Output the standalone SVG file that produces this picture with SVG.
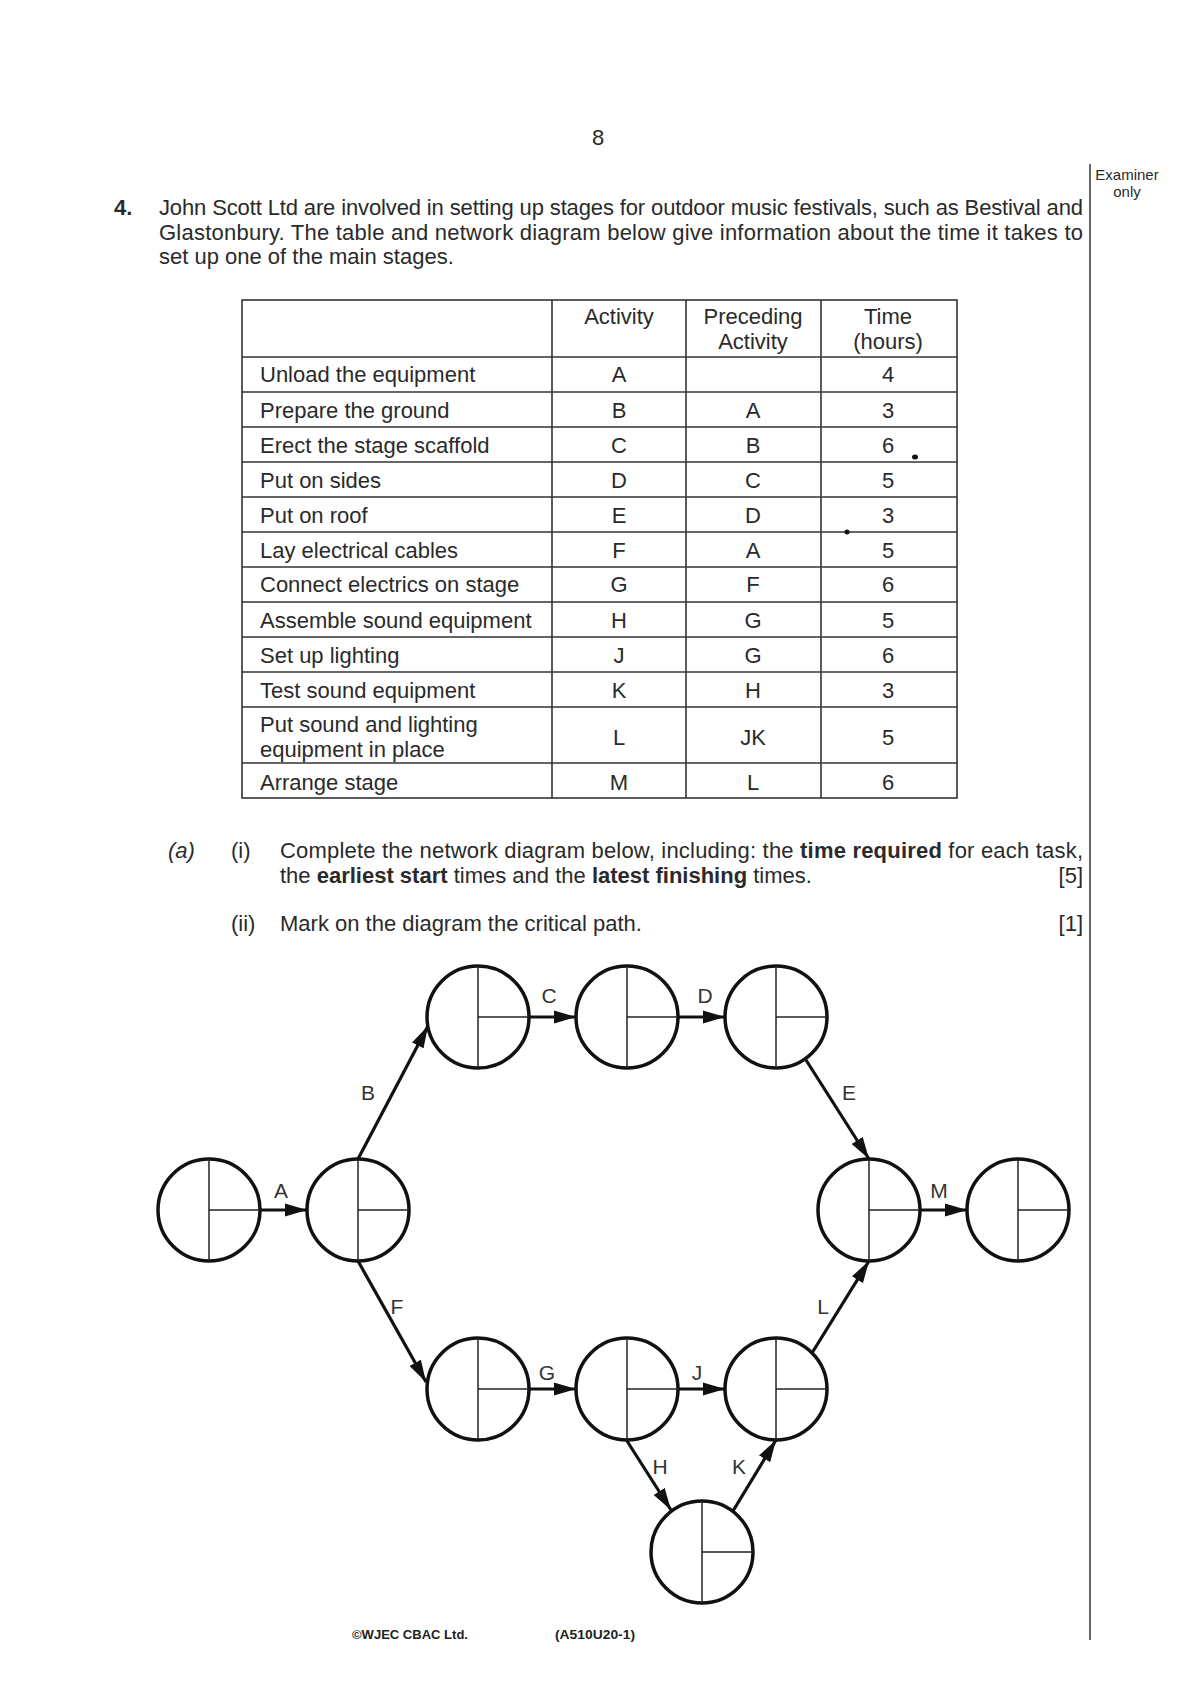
<svg xmlns="http://www.w3.org/2000/svg" width="1200" height="1696" viewBox="0 0 1200 1696">
<style>
.t{font-family:"Liberation Sans",Arial,sans-serif;font-size:22px;fill:#2a2a2a}
.c{text-anchor:middle}
.b{font-weight:bold}
.lbl{font-family:"Liberation Sans",Arial,sans-serif;font-size:21px;fill:#333;text-anchor:middle}
.grid{stroke:#333;stroke-width:1.6;fill:none}
.node circle{fill:#fff;stroke:#111;stroke-width:3.5}
.node line{stroke:#222;stroke-width:1.5}
.arr line{stroke:#111;stroke-width:3.2;marker-end:url(#ah)}
.sm{font-family:"Liberation Sans",Arial,sans-serif;font-size:13px;fill:#222;font-weight:bold}
</style>
<defs>
<marker id="ah" markerUnits="userSpaceOnUse" markerWidth="23" markerHeight="14" refX="22" refY="7" orient="auto">
<path d="M0,0.5 L22,7 L0,13.5 z" fill="#111"/>
</marker>
</defs>
<rect width="1200" height="1696" fill="#fff"/>

<text class="t c" x="598" y="145" font-size="20">8</text>
<line x1="1090" y1="164" x2="1090" y2="1640" stroke="#333" stroke-width="1.5"/>
<text class="t c" x="1127" y="180" style="font-size:15px">Examiner</text>
<text class="t c" x="1127" y="197" style="font-size:15px">only</text>

<text class="t b" x="114" y="215">4.</text>
<text class="t" x="159" y="215" textLength="924" lengthAdjust="spacing">John Scott Ltd are involved in setting up stages for outdoor music festivals, such as Bestival and</text>
<text class="t" x="159" y="240" textLength="924" lengthAdjust="spacing">Glastonbury. The table and network diagram below give information about the time it takes to</text>
<text class="t" x="159" y="264">set up one of the main stages.</text>

<g id="table">
<rect class="grid" x="242" y="300" width="715" height="498"/>
<line class="grid" x1="552" y1="300" x2="552" y2="798"/>
<line class="grid" x1="686" y1="300" x2="686" y2="798"/>
<line class="grid" x1="821" y1="300" x2="821" y2="798"/>
<line class="grid" x1="242" y1="357" x2="957" y2="357"/>
<line class="grid" x1="242" y1="392" x2="957" y2="392"/>
<line class="grid" x1="242" y1="427" x2="957" y2="427"/>
<line class="grid" x1="242" y1="462" x2="957" y2="462"/>
<line class="grid" x1="242" y1="497" x2="957" y2="497"/>
<line class="grid" x1="242" y1="532" x2="957" y2="532"/>
<line class="grid" x1="242" y1="567" x2="957" y2="567"/>
<line class="grid" x1="242" y1="602" x2="957" y2="602"/>
<line class="grid" x1="242" y1="637" x2="957" y2="637"/>
<line class="grid" x1="242" y1="672" x2="957" y2="672"/>
<line class="grid" x1="242" y1="707" x2="957" y2="707"/>
<line class="grid" x1="242" y1="763" x2="957" y2="763"/>

<text class="t c" x="619" y="324">Activity</text>
<text class="t c" x="753" y="324">Preceding</text>
<text class="t c" x="753" y="349">Activity</text>
<text class="t c" x="888" y="324">Time</text>
<text class="t c" x="888" y="349">(hours)</text>

<text class="t" x="260" y="382">Unload the equipment</text>
<text class="t c" x="619" y="382">A</text>
<text class="t c" x="888" y="382">4</text>

<text class="t" x="260" y="418">Prepare the ground</text>
<text class="t c" x="619" y="418">B</text>
<text class="t c" x="753" y="418">A</text>
<text class="t c" x="888" y="418">3</text>

<text class="t" x="260" y="453">Erect the stage scaffold</text>
<text class="t c" x="619" y="453">C</text>
<text class="t c" x="753" y="453">B</text>
<text class="t c" x="888" y="453">6</text>

<text class="t" x="260" y="488">Put on sides</text>
<text class="t c" x="619" y="488">D</text>
<text class="t c" x="753" y="488">C</text>
<text class="t c" x="888" y="488">5</text>

<text class="t" x="260" y="523">Put on roof</text>
<text class="t c" x="619" y="523">E</text>
<text class="t c" x="753" y="523">D</text>
<text class="t c" x="888" y="523">3</text>

<text class="t" x="260" y="558">Lay electrical cables</text>
<text class="t c" x="619" y="558">F</text>
<text class="t c" x="753" y="558">A</text>
<text class="t c" x="888" y="558">5</text>

<text class="t" x="260" y="592">Connect electrics on stage</text>
<text class="t c" x="619" y="592">G</text>
<text class="t c" x="753" y="592">F</text>
<text class="t c" x="888" y="592">6</text>

<text class="t" x="260" y="628">Assemble sound equipment</text>
<text class="t c" x="619" y="628">H</text>
<text class="t c" x="753" y="628">G</text>
<text class="t c" x="888" y="628">5</text>

<text class="t" x="260" y="663">Set up lighting</text>
<text class="t c" x="619" y="663">J</text>
<text class="t c" x="753" y="663">G</text>
<text class="t c" x="888" y="663">6</text>

<text class="t" x="260" y="698">Test sound equipment</text>
<text class="t c" x="619" y="698">K</text>
<text class="t c" x="753" y="698">H</text>
<text class="t c" x="888" y="698">3</text>

<text class="t" x="260" y="732">Put sound and lighting</text>
<text class="t" x="260" y="757">equipment in place</text>
<text class="t c" x="619" y="745">L</text>
<text class="t c" x="753" y="745">JK</text>
<text class="t c" x="888" y="745">5</text>

<text class="t" x="260" y="790">Arrange stage</text>
<text class="t c" x="619" y="790">M</text>
<text class="t c" x="753" y="790">L</text>
<text class="t c" x="888" y="790">6</text>

<ellipse cx="915" cy="457" rx="3" ry="2.5" fill="#111"/>
<ellipse cx="847" cy="532" rx="2.5" ry="2.5" fill="#111"/>
</g>

<text class="t" x="168" y="858" font-style="italic">(a)</text>
<text class="t" x="231" y="858">(i)</text>
<text class="t" x="280" y="858" textLength="803" lengthAdjust="spacing">Complete the network diagram below, including: the <tspan class="b">time required</tspan> for each task,</text>
<text class="t" x="280" y="883">the <tspan class="b">earliest start</tspan> times and the <tspan class="b">latest finishing</tspan> times.</text>
<text class="t" x="1083" y="883" text-anchor="end">[5]</text>
<text class="t" x="231" y="931">(ii)</text>
<text class="t" x="280" y="931">Mark on the diagram the critical path.</text>
<text class="t" x="1083" y="931" text-anchor="end">[1]</text>

<g id="connectors" class="arr">
<line x1="260" y1="1210" x2="307" y2="1210"/>
<line x1="358" y1="1159" x2="428" y2="1026"/>
<line x1="529" y1="1017" x2="576" y2="1017"/>
<line x1="678" y1="1017" x2="725" y2="1017"/>
<line x1="806" y1="1060" x2="869" y2="1159"/>
<line x1="920" y1="1210" x2="967" y2="1210"/>
<line x1="358" y1="1261" x2="426" y2="1382"/>
<line x1="529" y1="1389" x2="576" y2="1389"/>
<line x1="678" y1="1389" x2="725" y2="1389"/>
<line x1="627" y1="1441" x2="671" y2="1510"/>
<line x1="733" y1="1511" x2="776" y2="1440"/>
<line x1="812" y1="1353" x2="869" y2="1261"/>
<text class="lbl" x="281" y="1198">A</text>
<text class="lbl" x="368" y="1100">B</text>
<text class="lbl" x="549" y="1003">C</text>
<text class="lbl" x="705" y="1003">D</text>
<text class="lbl" x="849" y="1100">E</text>
<text class="lbl" x="939" y="1198">M</text>
<text class="lbl" x="397" y="1314">F</text>
<text class="lbl" x="547" y="1380">G</text>
<text class="lbl" x="697" y="1380">J</text>
<text class="lbl" x="660" y="1474">H</text>
<text class="lbl" x="739" y="1474">K</text>
<text class="lbl" x="823" y="1314">L</text>
</g>

<g id="n1" class="node"><circle cx="209" cy="1210" r="51"/><line x1="209" y1="1159" x2="209" y2="1261"/><line x1="209" y1="1210" x2="260" y2="1210"/></g>
<g id="n2" class="node"><circle cx="358" cy="1210" r="51"/><line x1="358" y1="1159" x2="358" y2="1261"/><line x1="358" y1="1210" x2="409" y2="1210"/></g>
<g id="n3" class="node"><circle cx="478" cy="1017" r="51"/><line x1="478" y1="966" x2="478" y2="1068"/><line x1="478" y1="1017" x2="529" y2="1017"/></g>
<g id="n4" class="node"><circle cx="627" cy="1017" r="51"/><line x1="627" y1="966" x2="627" y2="1068"/><line x1="627" y1="1017" x2="678" y2="1017"/></g>
<g id="n5" class="node"><circle cx="776" cy="1017" r="51"/><line x1="776" y1="966" x2="776" y2="1068"/><line x1="776" y1="1017" x2="827" y2="1017"/></g>
<g id="n6" class="node"><circle cx="869" cy="1210" r="51"/><line x1="869" y1="1159" x2="869" y2="1261"/><line x1="869" y1="1210" x2="920" y2="1210"/></g>
<g id="n7" class="node"><circle cx="1018" cy="1210" r="51"/><line x1="1018" y1="1159" x2="1018" y2="1261"/><line x1="1018" y1="1210" x2="1069" y2="1210"/></g>
<g id="n8" class="node"><circle cx="478" cy="1389" r="51"/><line x1="478" y1="1338" x2="478" y2="1440"/><line x1="478" y1="1389" x2="529" y2="1389"/></g>
<g id="n9" class="node"><circle cx="627" cy="1389" r="51"/><line x1="627" y1="1338" x2="627" y2="1440"/><line x1="627" y1="1389" x2="678" y2="1389"/></g>
<g id="n10" class="node"><circle cx="776" cy="1389" r="51"/><line x1="776" y1="1338" x2="776" y2="1440"/><line x1="776" y1="1389" x2="827" y2="1389"/></g>
<g id="n11" class="node"><circle cx="702" cy="1552" r="51"/><line x1="702" y1="1501" x2="702" y2="1603"/><line x1="702" y1="1552" x2="753" y2="1552"/></g>

<text class="sm" x="352" y="1639" textLength="116" lengthAdjust="spacingAndGlyphs">©WJEC CBAC Ltd.</text>
<text class="sm" x="555" y="1639" textLength="80" lengthAdjust="spacingAndGlyphs">(A510U20-1)</text>
</svg>
